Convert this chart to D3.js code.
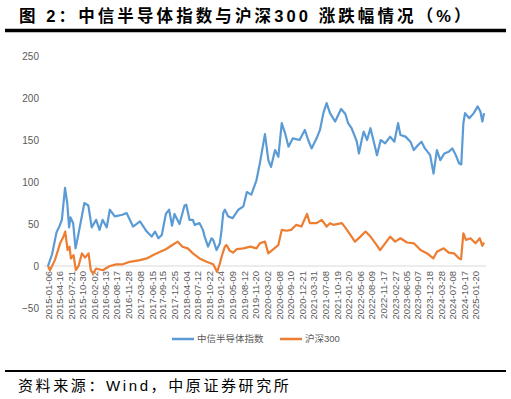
<!DOCTYPE html>
<html>
<head>
<meta charset="utf-8">
<script src="https://cdn.jsdelivr.net/npm/d3@7"></script>
<style>
  body { margin: 0; background: #fff; }
  svg { display: block; }
</style>
</head>
<body>
<svg id="chart" width="511" height="399"></svg>
<script>
const title = "图 2：中信半导体指数与沪深300 涨跌幅情况（%）";
const source = "资料来源：Wind，中原证券研究所";
const seriesNames = ["中信半导体指数", "沪深300"];

const tickDates = [
  "2015-01-06","2015-04-16","2015-07-21","2015-10-30","2016-02-02","2016-05-13","2016-08-17","2016-11-28",
  "2017-03-08","2017-06-15","2017-09-15","2017-12-25","2018-04-04","2018-07-12","2018-10-22","2019-01-24",
  "2019-05-09","2019-08-12","2019-11-20","2020-03-02","2020-06-08","2020-09-10","2020-12-21","2021-03-31",
  "2021-07-08","2021-10-19","2022-01-20","2022-05-06","2022-08-09","2022-11-17","2023-02-27","2023-06-05",
  "2023-09-07","2023-12-18","2024-03-28","2024-07-08","2024-10-17","2025-01-20"
];
const yTicks = [-50, 0, 50, 100, 150, 200, 250];

const semiDates = [
  "2015-01-06","2015-02-10","2015-03-20","2015-04-16","2015-05-05","2015-06-01","2015-06-20","2015-07-06","2015-07-17","2015-08-10",
  "2015-08-30","2015-09-20","2015-11-14","2015-12-18","2016-01-16","2016-02-23","2016-03-23","2016-04-18","2016-05-24","2016-06-19",
  "2016-08-01","2016-10-05","2016-11-10","2017-01-05","2017-03-05","2017-05-02","2017-06-13","2017-07-12","2017-08-10","2017-09-08",
  "2017-10-13","2017-11-10","2017-12-05","2017-12-26","2018-02-07","2018-03-22","2018-04-06","2018-05-04","2018-06-02","2018-06-17",
  "2018-07-29","2018-08-27","2018-09-11","2018-10-10","2018-11-09","2018-11-23","2018-12-22","2019-01-19","2019-02-03","2019-02-17",
  "2019-03-03","2019-04-01","2019-05-09","2019-06-27","2019-08-09","2019-09-08","2019-10-16","2019-11-29","2019-12-28","2020-02-10",
  "2020-03-10","2020-04-02","2020-05-07","2020-06-04","2020-07-03","2020-08-01","2020-08-30","2020-10-06","2020-12-03","2021-01-17",
  "2021-02-15","2021-03-16","2021-04-28","2021-05-27","2021-06-25","2021-07-23","2021-08-21","2021-10-04","2021-11-24","2021-12-31",
  "2022-01-23","2022-02-22","2022-03-23","2022-04-08","2022-04-26","2022-05-20","2022-06-06","2022-07-05","2022-08-03","2022-08-28",
  "2022-09-28","2022-10-30","2022-12-07","2023-01-19","2023-02-24","2023-03-28","2023-04-17","2023-05-31","2023-07-12","2023-08-10",
  "2023-09-16","2023-10-15","2023-11-13","2023-12-28","2024-01-26","2024-02-24","2024-03-24","2024-04-28","2024-06-04","2024-07-06",
  "2024-08-04","2024-09-02","2024-09-20","2024-10-08","2024-10-22","2024-11-28","2025-01-05","2025-02-08","2025-03-03","2025-03-20",
  "2025-04-03"
];
const semiValues = [
  0, 14, 40, 48, 55, 93, 75, 46, 58, 51,
  21, 35, 75, 72, 46, 55, 43, 55, 46, 67,
  59, 61, 63, 47, 53, 41, 35, 41, 33, 37,
  62, 67, 48, 62, 50, 72, 73, 55, 55, 49,
  51, 43, 35, 23, 33, 31, 19, 27, 43, 63,
  67, 59, 57, 67, 71, 88, 85, 102, 122, 157,
  126, 118, 138, 130, 170, 158, 142, 152, 150, 162,
  150, 140, 152, 162, 182, 194, 182, 172, 187, 181,
  170, 164, 154, 148, 134, 150, 160, 150, 164, 150,
  132, 150, 146, 154, 148, 170, 156, 154, 148, 138,
  144, 148, 140, 132, 110, 138, 126, 134, 136, 140,
  132, 122, 121, 170, 182, 176, 182, 190, 184, 172,
  182
];

const hsDates = [
  "2015-01-06","2015-01-23","2015-03-06","2015-04-20","2015-05-19","2015-06-03","2015-06-23","2015-07-10","2015-07-21","2015-08-13",
  "2015-09-02","2015-09-25","2015-10-24","2015-11-20","2015-12-20","2016-01-08","2016-01-28","2016-02-23","2016-04-20","2016-06-19",
  "2016-08-13","2016-10-08","2016-12-07","2017-03-05","2017-05-02","2017-06-27","2017-08-25","2017-10-13","2017-12-08","2018-01-23",
  "2018-03-05","2018-04-19","2018-06-02","2018-07-29","2018-09-27","2018-11-23","2018-12-27","2019-01-19","2019-02-03","2019-03-03",
  "2019-03-17","2019-04-15","2019-05-12","2019-06-13","2019-08-09","2019-10-08","2019-11-29","2019-12-28","2020-02-10","2020-03-10",
  "2020-04-23","2020-06-04","2020-07-03","2020-08-15","2020-09-22","2020-11-05","2020-12-19","2021-02-05","2021-03-01","2021-04-28",
  "2021-06-11","2021-07-23","2021-08-21","2021-09-19","2021-12-01","2022-01-03","2022-02-22","2022-03-23","2022-05-09","2022-06-22",
  "2022-08-03","2022-09-15","2022-10-25","2022-12-07","2023-01-19","2023-03-03","2023-04-17","2023-06-13","2023-08-10","2023-10-07",
  "2023-12-03","2024-01-24","2024-02-24","2024-04-22","2024-06-04","2024-07-20","2024-09-02","2024-09-18","2024-10-08","2024-10-30",
  "2024-12-08","2025-01-20","2025-02-26","2025-03-20","2025-04-03"
];
const hsValues = [
  0, -5, 7, 27, 35, 41, 19, 23, 9, 13,
  -5, 0, 15, 10, 15, -5, -9, -3, -5, 0,
  2, 2, 5, 7, 9, 13, 17, 20, 25, 29,
  23, 21, 15, 9, 5, 2, -7, 3, 11, 23,
  25, 18, 16, 20, 21, 23, 21, 27, 29, 15,
  20, 25, 43, 42, 43, 49, 47, 62, 51, 51,
  55, 47, 51, 49, 51, 45, 35, 29, 35, 41,
  35, 27, 19, 27, 35, 29, 33, 28, 27, 19,
  15, 9, 17, 21, 16, 15, 9, 8, 39, 31,
  33, 27, 33, 24, 28
];

const colors = ["#5B9BD5", "#ED7D31"];
const parse = d3.timeParse("%Y-%m-%d");
const semi = semiDates.map((d, i) => ({ date: parse(d), value: semiValues[i] }));
const hs = hsDates.map((d, i) => ({ date: parse(d), value: hsValues[i] }));

const svg = d3.select("#chart");
const font = "'Liberation Sans', Arial, 'Noto Sans CJK SC', sans-serif";
const cjk = "'Liberation Sans', 'Noto Sans CJK SC', sans-serif";

// header
svg.append("text")
  .attr("x", 19).attr("y", 22)
  .style("font-family", cjk).style("font-size", "16.5px").style("font-weight", "bold")
  .style("letter-spacing", "3.1px")
  .style("fill", "#000")
  .text(title);
svg.append("line")
  .attr("x1", 5).attr("x2", 506).attr("y1", 30.5).attr("y2", 30.5)
  .style("stroke", "#000").style("stroke-width", 3.5);

const x = d3.scaleTime()
  .domain([parse(semiDates[0]), parse(semiDates[semiDates.length - 1])])
  .range([48, 484]);
const y = d3.scaleLinear().domain([-50, 250]).range([308, 56]);

// y axis labels
const yAxis = svg.append("g")
  .attr("transform", "translate(39,0)")
  .call(d3.axisLeft(y).tickValues(yTicks).tickSize(0).tickPadding(0));
yAxis.select(".domain").remove();
yAxis.selectAll("text")
  .style("font-family", font).style("font-size", "10px").style("fill", "#595959");

// zero line
svg.append("line")
  .attr("x1", x.range()[0] - 4).attr("x2", x.range()[1] + 2)
  .attr("y1", y(0)).attr("y2", y(0))
  .style("stroke", "#d9d9d9").style("stroke-width", 1);

// x axis labels
const xAxis = svg.append("g")
  .attr("transform", "translate(0," + y(0) + ")")
  .call(d3.axisBottom(x).tickValues(tickDates.map(parse)).tickFormat(d3.timeFormat("%Y-%m-%d")).tickSize(0));
xAxis.select(".domain").remove();
xAxis.selectAll("text")
  .attr("transform", "rotate(-90)")
  .attr("text-anchor", "end")
  .attr("x", -5).attr("y", 0).attr("dy", "0.35em")
  .style("font-family", font).style("font-size", "9.5px").style("fill", "#595959");

const line = d3.line()
  .x(d => x(d.date))
  .y(d => y(d.value));

svg.append("path").datum(hs)
  .attr("d", line)
  .style("fill", "none").style("stroke", colors[1]).style("stroke-width", 2.2)
  .style("stroke-linejoin", "round");
svg.append("path").datum(semi)
  .attr("d", line)
  .style("fill", "none").style("stroke", colors[0]).style("stroke-width", 2.2)
  .style("stroke-linejoin", "round");

// legend
const legendX = [172, 280];
seriesNames.forEach((name, i) => {
  const g = svg.append("g").attr("transform", "translate(" + legendX[i] + ",339)");
  g.append("line").attr("x1", 0).attr("x2", 22).attr("y1", 0).attr("y2", 0)
    .style("stroke", colors[i]).style("stroke-width", 2.5);
  g.append("text").attr("x", 25).attr("y", 0).attr("dy", "0.35em")
    .style("font-family", cjk).style("font-size", "9.5px").style("fill", "#595959")
    .text(name);
});

// footer
svg.append("line")
  .attr("x1", 5).attr("x2", 506).attr("y1", 371).attr("y2", 371)
  .style("stroke", "#000").style("stroke-width", 2);
svg.append("text")
  .attr("x", 18).attr("y", 391)
  .style("font-family", cjk).style("font-size", "15px").style("letter-spacing", "2.6px")
  .style("fill", "#000")
  .text(source);
</script>
</body>
</html>
